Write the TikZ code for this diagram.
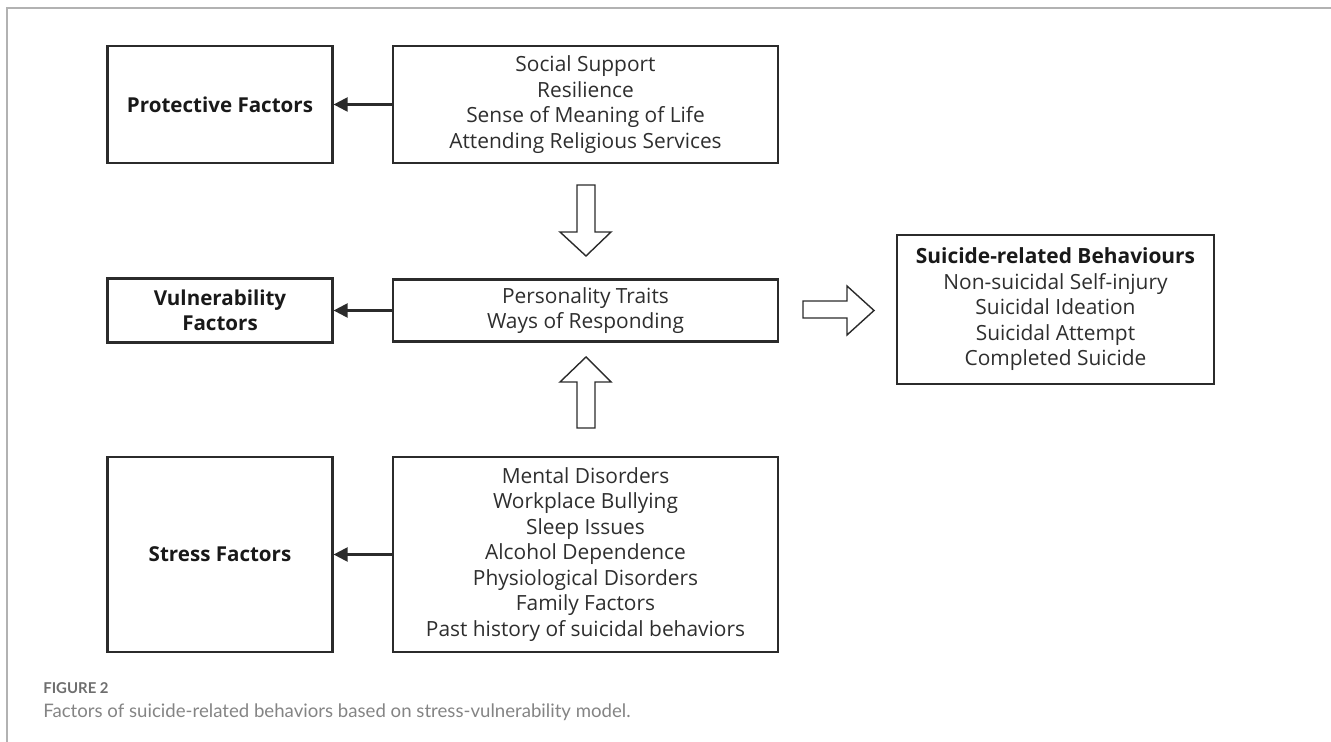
\documentclass[tikz,border=0pt]{standalone}
\usepackage{fontspec}
\setmainfont{Open Sans}
\newfontfamily\capfont{Lato}
\usetikzlibrary{arrows.meta,positioning}

\definecolor{boxline}{HTML}{2B2B2B}
\definecolor{listtext}{HTML}{2E2E2E}
\definecolor{capgray}{HTML}{6E6E6E}

\tikzset{
  factorbox/.style={draw=boxline,line width=1.3pt,align=center,inner sep=2pt,
    font=\fontsize{11.7}{14.5}\selectfont\bfseries,text=black!90},
  listbox/.style={draw=boxline,line width=1.3pt,align=center,inner sep=2pt,
    minimum width=7.7cm,font=\fontsize{11.9}{14.5}\selectfont,text=listtext},
  link/.style={->,line width=1.3pt,draw=boxline},
  hollow/.style={draw=boxline,line width=0.8pt,fill=white,line join=miter}
}

\begin{document}
\begin{tikzpicture}[x=0.02cm,y=-0.02cm,>={Triangle[length=0.28cm,width=0.28cm]}]
  % Page and frame
  \useasboundingbox (0,0) rectangle (1331,742);
  \draw[black!30,line width=0.6pt] (7,742) -- (7,8) -- (1331,8);

  % Left column
  \node[factorbox,minimum width=4.5cm,minimum height=2.34cm] (prot) at (220,104.5) {Protective Factors};
  \node[factorbox,minimum width=4.5cm,minimum height=1.28cm] (vuln) at (220,310.5) {Vulnerability\\Factors};
  \node[factorbox,minimum width=4.5cm,minimum height=3.9cm] (stress) at (220,554.5) {Stress Factors};

  % Middle column
  \node[listbox,minimum height=2.34cm,text depth=0.1cm] (protlist) at (585.5,104.5)
    {Social Support\\Resilience\\Sense of Meaning of Life\\Attending Religious Services};
  \node[listbox,minimum height=1.24cm] (traits) at (585.5,310.5)
    {Personality Traits\\Ways of Responding};
  \node[listbox,minimum height=3.9cm] (stresslist) at (585.5,554.5)
    {Mental Disorders\\Workplace Bullying\\Sleep Issues\\Alcohol Dependence\\
     Physiological Disorders\\Family Factors\\Past history of suicidal behaviors};

  % Outcome
  \node[listbox,minimum width=6.34cm,minimum height=2.98cm] (behav) at (1055.5,309.5)
    {\textbf{\color{black!90}Suicide-related Behaviours}\\Non-suicidal Self-injury\\
     Suicidal Ideation\\Suicidal Attempt\\Completed Suicide};

  % Small arrows to the left
  \draw[link] (protlist.west) -- (prot.east);
  \draw[link] (traits.west) -- (vuln.east);
  \draw[link] (stresslist.west) -- (stress.east);

  % Hollow block arrows
  \draw[hollow] (577,185) -- (595,185) -- (595,232) -- (611,232) -- (586,256)
    -- (560,232) -- (577,232) -- cycle;                              % down
  \draw[hollow] (577,428) -- (595,428) -- (595,382) -- (611,382) -- (586,357)
    -- (560,382) -- (577,382) -- cycle;                              % up
  \draw[hollow] (803,301) -- (847,301) -- (847,286) -- (874,310.5) -- (847,335)
    -- (847,318) -- (803,318) -- cycle;                              % right

  % Caption
  \node[anchor=base west,inner sep=0pt,text=capgray,font=\capfont\fontsize{8.5}{10}\selectfont\bfseries]
    (fig) at (43,693) {FIGURE 2};
  \node[anchor=base west,inner sep=0pt,text=capgray!85,font=\capfont\fontsize{10.6}{12}\selectfont]
    (cap) at (43,717) {Factors of suicide-related behaviors based on stress-vulnerability model.};
\end{tikzpicture}
\end{document}
